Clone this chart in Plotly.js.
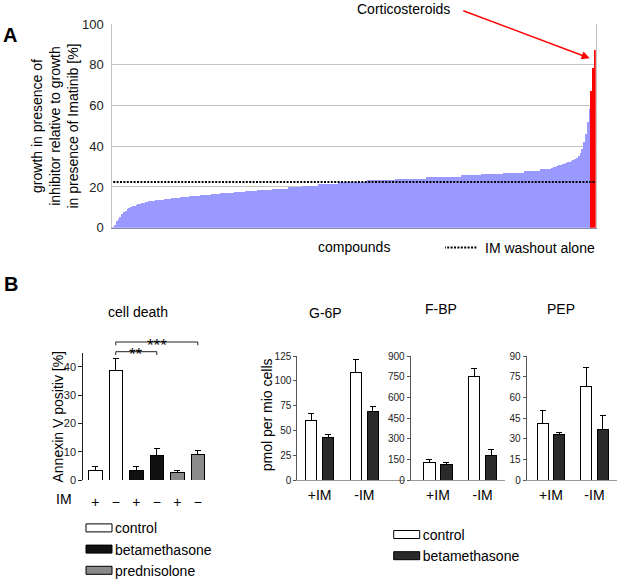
<!DOCTYPE html>
<html>
<head>
<meta charset="utf-8">
<script src="https://cdn.plot.ly/plotly-3.0.1.min.js"></script>
<style>
html,body{margin:0;padding:0;background:#fff;overflow:hidden;width:620px;height:580px;}
#chart{width:620px;height:600px;}
.barlayer path{shape-rendering:crispEdges;}
</style>
</head>
<body>
<div id="chart"></div>
<script>
// ---------- Panel A data ----------
const compoundGrowth = [
0.5,1.5,3.5,4.5,5.5,6.5,7.5,8.2,9.0,9.6,
10.1,10.6,10.9,11.2,11.4,11.6,11.9,12.2,12.5,12.7,
12.9,13.1,13.2,13.3,13.4,13.5,13.6,13.7,13.8,14.0,
14.1,14.2,14.3,14.4,14.5,14.6,14.7,14.8,14.9,15.0,
15.1,15.2,15.3,15.4,15.5,15.6,15.7,15.7,15.8,15.9,
16.0,16.0,16.1,16.2,16.3,16.4,16.5,16.6,16.6,16.7,
16.8,16.8,16.9,17.0,17.0,17.1,17.2,17.2,17.3,17.4,
17.5,17.6,17.6,17.7,17.8,17.8,17.9,18.0,18.0,18.1,
18.2,18.3,18.5,18.5,18.5,18.5,18.5,18.5,18.5,19.2,
19.2,19.2,19.2,19.2,19.2,19.2,19.2,19.2,20.0,20.0,
20.0,20.0,20.0,20.0,20.0,20.0,20.6,20.6,20.6,20.6,
20.6,20.6,20.6,20.6,20.6,21.6,21.6,21.6,21.6,21.6,
21.6,21.6,21.6,21.6,21.6,21.6,22.4,22.4,22.4,22.4,
22.4,22.4,22.4,22.4,22.4,22.4,22.4,22.4,22.4,22.4,
22.4,22.4,23.4,23.4,23.4,23.4,23.4,23.4,23.4,23.4,
23.4,23.4,23.4,23.4,23.4,23.4,23.4,23.4,24.1,24.1,
24.1,24.1,24.1,24.1,24.1,24.1,24.1,24.1,24.1,24.1,
24.1,24.1,24.1,24.1,24.1,24.8,24.8,24.8,24.8,24.8,
24.8,24.8,24.8,24.8,25.1,25.1,25.1,25.1,25.1,25.1,
25.1,25.1,25.1,25.1,25.1,25.7,25.7,25.7,25.7,25.7,
25.7,25.7,25.7,25.7,25.7,25.7,26.4,26.4,26.4,26.4,
26.4,26.4,26.4,26.4,26.4,26.4,26.4,26.4,27.0,27.0,
27.0,27.0,27.0,27.0,27.0,27.0,27.0,27.0,27.0,27.0,
27.8,27.8,27.8,27.8,27.8,27.8,27.8,27.8,27.8,28.7,
28.7,28.7,28.7,28.7,28.7,29.5,29.8,30.0,30.3,30.6,
31.0,31.2,31.5,31.8,32.1,32.4,32.8,33.2,33.6,34.2,
35.0,36.5,38.5,42.0,46.0,52.0,58.5
];
const corticosteroidGrowth = [67, 78.5, 87];
const washoutLevel = 22.4;
const yTicksA = [0, 20, 40, 60, 80, 100];

// ---------- Panel B: cell death ----------
const treatments = ['control', 'betamethasone', 'prednisolone'];
const imLabels = ['+', '\u2212', '+', '\u2212', '+', '\u2212'];
const barTreatment = [0, 0, 1, 1, 2, 2];
const cellDeathMean = [3.5, 38.8, 3.2, 8.8, 2.6, 8.9];
const cellDeathErr = [1.2, 4.1, 1.7, 2.4, 0.7, 1.7];
const sigPairs = [[1, 3, '**'], [1, 5, '***']];

// ---------- Panel B: metabolites ----------
const imConditions = ['+IM', '-IM'];
const g6pControl = [59.5, 108.5], g6pControlErr = [7.7, 13.1];
const g6pBeta = [43.0, 68.9], g6pBetaErr = [2.4, 5.7];
const fbpControl = [130, 750], fbpControlErr = [20, 60];
const fbpBeta = [113, 177], fbpBetaErr = [15, 46];
const pepControl = [41.1, 68.2], pepControlErr = [9.7, 13.3];
const pepBeta = [33.1, 36.8], pepBetaErr = [1.5, 9.7];

// ---------- helpers ----------
const W = 620, H = 580, EXTRA = 20;   // extra hidden strip below so legends are not clamped
const px = v => v / W;
const py = v => 1 - v / H;
const FONT = 'Liberation Sans, Arial, sans-serif';
const zeros = n => new Array(n).fill(0);

const traces = [];

// Panel A
const blueX = compoundGrowth.map((_, i) => i);
const redX = corticosteroidGrowth.map((_, i) => compoundGrowth.length + i);
const nTotal = compoundGrowth.length + corticosteroidGrowth.length;
traces.push({type:'bar', x: blueX, y: compoundGrowth, width: 1, offsetgroup:'a',
  marker:{color:'#9999ff', line:{width:0}}, showlegend:false, xaxis:'x', yaxis:'y', hoverinfo:'skip'});
traces.push({type:'bar', x: redX, y: corticosteroidGrowth, width: 1, offsetgroup:'a',
  marker:{color:'#ff0000', line:{width:0}}, showlegend:false, xaxis:'x', yaxis:'y', hoverinfo:'skip'});
traces.push({type:'scatter', mode:'lines', x:[blueX[0], redX[redX.length-1]], y:[washoutLevel, washoutLevel],
  line:{color:'#000', width:2, dash:'2px,1.4px'}, name:'IM washout alone', legend:'legend',
  xaxis:'x', yaxis:'y', hoverinfo:'skip'});

// Cell death
const cdColors = ['#ffffff', '#111111', '#8a8a8a'];
treatments.forEach((t, k) => {
  const idx = barTreatment.map((b, i) => b === k ? i : -1).filter(i => i >= 0);
  traces.push({type:'bar', name: t, legend:'legend2', x: idx, y: idx.map(i => cellDeathMean[i]),
    width: 0.66, offsetgroup:'cd',
    marker:{color: cdColors[k], line:{color:'#000', width:1}},
    error_y:{type:'data', symmetric:false, array: idx.map(i => cellDeathErr[i]), arrayminus: zeros(idx.length),
      color:'#000', thickness:1, width:3},
    xaxis:'x2', yaxis:'y2', hoverinfo:'skip'});
});

// Metabolites
const metab = [
  {c: g6pControl, ce: g6pControlErr, b: g6pBeta, be: g6pBetaErr, ax: 3},
  {c: fbpControl, ce: fbpControlErr, b: fbpBeta, be: fbpBetaErr, ax: 4},
  {c: pepControl, ce: pepControlErr, b: pepBeta, be: pepBetaErr, ax: 5}
];
metab.forEach((m, j) => {
  traces.push({type:'bar', name:'control', legend:'legend3', showlegend: j === 0,
    x: imConditions, y: m.c, marker:{color:'#ffffff', line:{color:'#000', width:1}},
    error_y:{type:'data', symmetric:false, array:m.ce, arrayminus:zeros(2), color:'#000', thickness:1, width:3},
    xaxis:'x' + m.ax, yaxis:'y' + m.ax, hoverinfo:'skip'});
  traces.push({type:'bar', name:'betamethasone', legend:'legend3', showlegend: j === 0,
    x: imConditions, y: m.b, marker:{color:'#2a2a2a', line:{color:'#000', width:1}},
    error_y:{type:'data', symmetric:false, array:m.be, arrayminus:zeros(2), color:'#000', thickness:1, width:3},
    xaxis:'x' + m.ax, yaxis:'y' + m.ax, hoverinfo:'skip'});
});

const tickFontA = {family: FONT, size: 13, color: '#222'};
const tickFontB = {family: FONT, size: 10, color: '#222'};
const metY = (dom, range, dtick) => ({domain: dom, range: range, dtick: dtick, showline:true, linecolor:'#555',
  linewidth:1, ticks:'outside', ticklen:3, tickcolor:'#555', tickfont: tickFontB, showgrid:false, zeroline:false,
  fixedrange:true});
const metX = (dom, range, anchor) => ({domain: dom, range: range, anchor: anchor, showline:true, linecolor:'#999',
  ticks:'', tickfont:{family:FONT, size:14, color:'#000'}, ticklabelstandoff: 2, showgrid:false, zeroline:false});

const metDomY = [py(480), py(356)];

const layout = {
  width: W, height: H + EXTRA, margin:{l:0, r:0, t:0, b:EXTRA},
  paper_bgcolor:'#fff', plot_bgcolor:'rgba(0,0,0,0)',
  font:{family: FONT, size: 14, color:'#000'},
  barmode:'group', bargap:0.24, bargroupgap:0.32,
  xaxis:{domain:[px(112.3), px(595.7)], range:[-0.5, nTotal - 0.5], anchor:'y',
    showticklabels:false, ticks:'', showgrid:false, zeroline:false,
    showline:true, linecolor:'#8888a8', linewidth:1},
  yaxis:{domain:[py(227.7), py(24)], range:[0, 100], tickvals: yTicksA, anchor:'x',
    showgrid:true, gridcolor:'#c4c4c4', gridwidth:1, zeroline:false,
    showline:true, linecolor:'#c4c4c4', mirror:true, ticks:'', ticklabelstandoff:5, tickfont: tickFontA},
  xaxis2:{domain:[px(83.3), px(209.5)], range:[-0.583, 5.57], anchor:'y2',
    tickvals: imLabels.map((_, i) => i), ticktext: imLabels, ticks:'', showline:false, showgrid:false,
    zeroline:false, tickfont:{family:FONT, size:14, color:'#000'}, ticklabelstandoff: 12},
  yaxis2:{domain:[py(480), py(352.7)], range:[0, 45], dtick:10, anchor:'x2', showline:true, linecolor:'#222',
    ticks:'outside', ticklen:4, tickcolor:'#222', tickfont:{family:FONT, size:11, color:'#222'},
    showgrid:false, zeroline:false},
  xaxis3: metX([px(297.3), px(405)], [-0.5, 1.91], 'y3'),
  yaxis3: Object.assign(metY(metDomY, [0, 125], 25), {anchor:'x3'}),
  xaxis4: metX([px(410.7), px(505)], [-0.61, 1.5], 'y4'),
  yaxis4: Object.assign(metY(metDomY, [0, 900], 150), {anchor:'x4'}),
  xaxis5: metX([px(526.7), px(616.7)], [-0.556, 1.51], 'y5'),
  yaxis5: Object.assign(metY(metDomY, [0, 90], 15), {anchor:'x5'}),
  legend:{x: px(445), y: py(232), xanchor:'left', yanchor:'top', bgcolor:'rgba(0,0,0,0)',
    font:{family:FONT, size:14, color:'#000'}, borderwidth:0},
  legend2:{x: px(75), y: py(512.3), xanchor:'left', yanchor:'top', bgcolor:'rgba(0,0,0,0)',
    font:{family:FONT, size:14, color:'#000'}, borderwidth:0, traceorder:'normal'},
  legend3:{x: px(382.7), y: py(518.9), xanchor:'left', yanchor:'top', bgcolor:'rgba(0,0,0,0)',
    font:{family:FONT, size:14, color:'#000'}, borderwidth:0, traceorder:'normal'},
  shapes: [],
  annotations: []
};

const ann = (text, x, y, opts) => Object.assign({text, x: px(x), y: py(y), xref:'paper', yref:'paper',
  showarrow:false, xanchor:'center', yanchor:'middle', font:{family:FONT, size:14, color:'#000'}}, opts || {});

layout.annotations.push(ann('<b>A</b>', 10, 35, {font:{family:FONT, size:20, color:'#000'}}));
layout.annotations.push(ann('<b>B</b>', 11, 284, {font:{family:FONT, size:20, color:'#000'}}));
layout.annotations.push(ann('growth in presence of<br>inhibitor relative to growth<br>in presence of Imatinib [%]',
  54.5, 126, {textangle:-90}));
layout.annotations.push(ann('compounds', 354, 246.7));
layout.annotations.push(ann('Corticosteroids', 403.5, 8.5));
// arrow pointing at the corticosteroid bars
layout.annotations.push({text:'', x: 266.2, y: 83.2, xref:'x', yref:'y', showarrow:true,
  ax: -128, ay: -48, arrowcolor:'#ff0000', arrowwidth:1.5, arrowhead:2, arrowsize:1.1, standoff:0});

layout.annotations.push(ann('cell death', 138, 312));
layout.annotations.push(ann('Annexin V positiv [%]', 57.5, 417, {textangle:-90}));
layout.annotations.push(ann('IM', 63.5, 499));
layout.annotations.push(ann('G-6P', 325.7, 313));
layout.annotations.push(ann('F-BP', 441, 309.3));
layout.annotations.push(ann('PEP', 560.7, 309.3));
layout.annotations.push(ann('pmol per mio cells', 267.3, 415, {textangle:-90}));

// significance brackets
const bracketY = [351.7, 342];
sigPairs.forEach((p, k) => {
  const yTop = py(bracketY[k]), yLow = py(bracketY[k] + 3.3);
  layout.shapes.push({type:'path', xref:'x2', yref:'paper',
    path:`M${p[0]},${yLow} L${p[0]},${yTop} L${p[1]},${yTop} L${p[1]},${yLow}`,
    line:{color:'#222', width:1}});
  layout.annotations.push({text: p[2], x: (p[0] + p[1]) / 2, y: py(bracketY[k] + 3), xref:'x2', yref:'paper',
    showarrow:false, xanchor:'center', yanchor:'middle', font:{family:FONT, size:17, color:'#000'}});
});

function fixLegends() {
  document.querySelectorAll('g.legend .traces, g.legend2 .traces, g.legend3 .traces').forEach(tr => {
    tr.querySelectorAll('path').forEach(p => {
      const d = p.getAttribute('d') || '';
      const inLines = p.closest('.legendlines');
      if (inLines || /^M5,0h/.test(d)) {
        p.setAttribute('d', 'M-8,0H32');
        p.removeAttribute('transform');
      } else if (p.closest('.legendpoints') && d.length > 2) {
        p.setAttribute('d', 'M11,-4H37V4H11Z');
        p.removeAttribute('transform');
      }
    });
  });
}

const gd = document.getElementById('chart');
Plotly.newPlot(gd, traces, layout, {displayModeBar:false, staticPlot:true}).then(() => {
  fixLegends();
  gd.on && gd.on('plotly_afterplot', fixLegends);
});
</script>
</body>
</html>
